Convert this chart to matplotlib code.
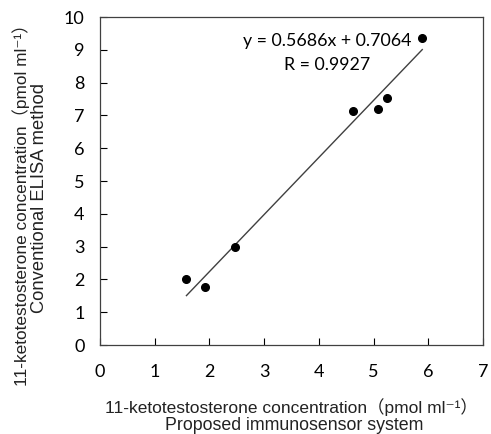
import numpy as np
import matplotlib
matplotlib.use("Agg")
import matplotlib.pyplot as plt

plt.rcParams['font.family'] = ['Lato', 'Noto Sans CJK JP', 'DejaVu Sans']

x_vals = [1.58, 1.91, 2.47, 4.63, 5.09, 5.25, 5.89]
y_vals = [2.00, 1.78, 2.98, 7.12, 7.20, 7.53, 9.36]
x_ticks = [0, 1, 2, 3, 4, 5, 6, 7]
y_ticks = [0, 1, 2, 3, 4, 5, 6, 7, 8, 9, 10]
eq_text = "y = 0.5686x + 0.7064"
r_text = "R = 0.9927"
xlabel_lines = ["11-ketotestosterone concentration（pmol ml\u207b\u00b9）", "Proposed immunosensor system"]
ylabel_lines = ["11-ketotestosterone concentration（pmol ml\u207b\u00b9）", "Conventional ELISA method"]

W, H = 491, 434
fig = plt.figure(figsize=(W / 100, H / 100), dpi=100)
ax = fig.add_axes([100 / W, 1 - 345 / H, 383 / W, 328 / H])

x = np.array(x_vals)
y = np.array(y_vals)
# trendline: regression of x on y, inverted
b, a = np.polyfit(y, x, 1)
xl = np.array([x.min(), x.max()])
yl = (xl - a) / b
ax.plot(xl, yl, color='#404040', lw=1.0)
ax.plot(x, y, 'o', color='black', ms=5.5)

ax.set_xlim(0, 7)
ax.set_ylim(0, 10)
ax.set_xticks(x_ticks)
ax.set_yticks(y_ticks)
ax.tick_params(direction='in', length=5, width=0.8, labelsize=13, pad=11)
ax.tick_params(axis='x', pad=14)
for s in ax.spines.values():
    s.set_color('#404040')
    s.set_linewidth(0.9)

ax.text(0.593, 0.927, eq_text, transform=ax.transAxes, ha='center', va='center', fontsize=12.8)
ax.text(0.593, 0.854, r_text, transform=ax.transAxes, ha='center', va='center', fontsize=12.8)

fam_lab = ['Liberation Sans', 'Noto Sans CJK JP', 'DejaVu Sans']

def put(txt, cx, cy, target_len, rot, fam):
    t = fig.text(cx / W, 1 - cy / H, txt, rotation=rot, ha='center', va='center',
                 fontsize=12, family=fam, color='#222222')
    fig.canvas.draw()
    bb = t.get_window_extent()
    cur = bb.height if rot == 90 else bb.width
    t.set_fontsize(12 * target_len / cur)
    return t

put(xlabel_lines[0], 291, 407, 373, 0, fam_lab)
put(xlabel_lines[1], 294, 425, 258, 0, fam_lab)
put(ylabel_lines[0], 21, 201, 370, 90, fam_lab)
put(ylabel_lines[1], 40, 198, 230, 90, fam_lab)

fig.savefig("out.png", dpi=100)
